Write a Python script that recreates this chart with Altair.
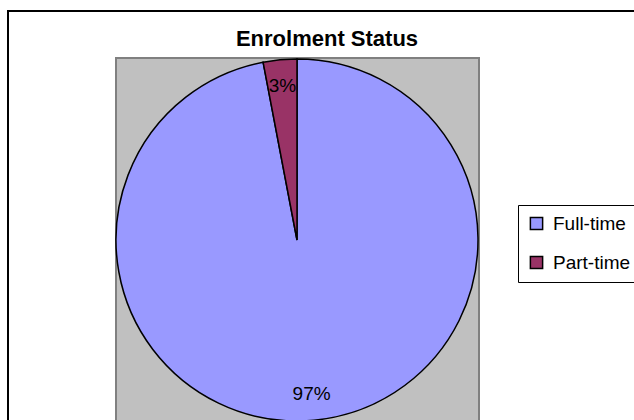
import altair as alt
import pandas as pd

categories = ["Full-time", "Part-time"]
values = [97, 3]
labels = ["97%", "3%"]
colors = ["#9999FF", "#993366"]
title_text = "Enrolment Status"

df = pd.DataFrame({"status": categories, "value": values, "label": labels})
one = pd.DataFrame({"k": [0]})
tdf = pd.DataFrame({"t": [title_text]})

frame = alt.Chart(one).mark_rect(fill="white", stroke="black", strokeWidth=2).encode(
    x=alt.value(8), x2=alt.value(760), y=alt.value(11), y2=alt.value(700)
)
plot_bg = alt.Chart(one).mark_rect(fill="#C0C0C0", stroke="#808080", strokeWidth=2).encode(
    x=alt.value(116), x2=alt.value(479), y=alt.value(58), y2=alt.value(500)
)
title = alt.Chart(tdf).mark_text(
    font="Liberation Sans", fontSize=22, fontWeight="bold", color="black",
    align="center", baseline="alphabetic"
).encode(x=alt.value(327), y=alt.value(46), text="t:N")

base = alt.Chart(df).encode(
    theta=alt.Theta("value:Q", stack=True),
    order=alt.Order("status:N", sort="ascending"),
)

pie = base.mark_arc(outerRadius=181, stroke="black", strokeWidth=1.5, opacity=1).encode(
    x=alt.value(297),
    y=alt.value(240),
    color=alt.Color(
        "status:N",
        scale=alt.Scale(domain=categories, range=colors),
        legend=alt.Legend(
            title=None,
            orient="none",
            legendX=518,
            legendY=205,
            strokeColor="black",
            fillColor="white",
            padding=9,
            symbolType="square",
            symbolSize=150,
            symbolStrokeColor="black",
            symbolStrokeWidth=1.5,
            symbolOpacity=1,
            labelFont="Liberation Sans",
            labelFontSize=19,
            labelColor="black",
            labelOffset=7,
            rowPadding=19,
        ),
    ),
)
text = base.mark_text(radius=155, font="Liberation Sans", fontSize=19, fill="black").encode(
    x=alt.value(297), y=alt.value(240), text="label:N", detail="status:N"
)

chart = alt.layer(frame, plot_bg, title, pie, text).properties(
    width=634,
    height=420,
    autosize=alt.AutoSizeParams(type="none"),
    padding=0,
).configure(background="white").configure_view(stroke="transparent", strokeWidth=0)

chart.save("out.html", embed_options={"renderer": "svg", "actions": False})
